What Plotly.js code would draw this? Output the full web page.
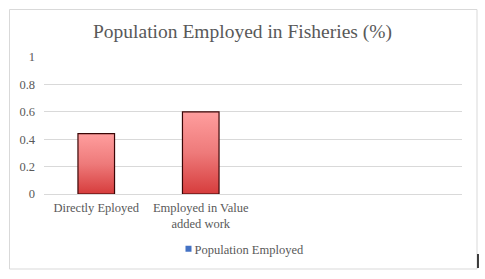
<!DOCTYPE html>
<html>
<head>
<meta charset="utf-8">
<script src="https://cdn.plot.ly/plotly-3.0.1.min.js"></script>
<style>
html,body{margin:0;padding:0;background:#fff;}
#chart{width:485px;height:279px;}
</style>
</head>
<body>
<div id="chart"></div>
<script>
const categories = ["Directly Eployed", "Employed in Value<br>added work"];
const values = [0.44, 0.6];
const seriesName = "Population Employed";
const yTicks = [0, 0.2, 0.4, 0.6, 0.8, 1];
const yTickLabels = ["0", "0.2", "0.4", "0.6", "0.8", "1"];

const FONT = "Liberation Serif, DejaVu Serif, serif";
const W = 485, H = 279;
const M = {l: 44, r: 23, t: 57, b: 85};
const pw = W - M.l - M.r, ph = H - M.t - M.b;
function px(x){ return (x - M.l) / pw; }
function py(y){ return (H - M.b - y) / ph; }

const traces = [
  {
    type: "bar",
    x: categories,
    y: values,
    name: seriesName,
    width: 0.35,
    showlegend: false,
    marker: {color: "#E86A6A", line: {color: "#3A0606", width: 1.2}},
    hoverinfo: "skip"
  },
  {
    type: "scatter",
    mode: "markers",
    x: [categories[0]],
    y: [null],
    name: seriesName,
    showlegend: true,
    marker: {symbol: "square", size: 6, color: "#4472C4"}
  }
];

const layout = {
  width: W, height: H,
  margin: M,
  paper_bgcolor: "#ffffff",
  plot_bgcolor: "#ffffff",
  font: {family: FONT, color: "#595959", size: 12},
  title: {
    text: "Population Employed in Fisheries (%)",
    font: {family: FONT, size: 19.5, color: "#595959"},
    x: 0.5, xanchor: "center", xref: "container",
    y: 1 - 31 / H, yanchor: "middle", yref: "container"
  },
  xaxis: {
    type: "category",
    range: [-0.5, 3.5],
    showgrid: false, zeroline: false, showline: false,
    ticks: "",
    ticklabelstandoff: 4,
    tickfont: {family: FONT, size: 12.5, color: "#595959"},
    fixedrange: true
  },
  yaxis: {
    range: [0, 1],
    tickvals: yTicks,
    ticktext: yTickLabels,
    showgrid: true, gridcolor: "#D9D9D9", gridwidth: 1,
    zeroline: true, zerolinecolor: "#D9D9D9", zerolinewidth: 1,
    showline: false, ticks: "",
    ticklabelstandoff: 8,
    tickfont: {family: FONT, size: 12.5, color: "#595959"},
    fixedrange: true
  },
  showlegend: true,
  legend: {
    orientation: "h",
    x: px(246), xanchor: "center",
    y: py(249), yanchor: "middle",
    font: {family: FONT, size: 12.5, color: "#595959"},
    bgcolor: "rgba(0,0,0,0)"
  },
  shapes: [
    {type: "rect", xref: "paper", yref: "paper",
     x0: px(9.5), x1: px(477), y0: py(269), y1: py(9.5),
     line: {color: "#D9D9D9", width: 1}, fillcolor: "rgba(0,0,0,0)", layer: "below"},
    {type: "line", xref: "paper", yref: "paper",
     x0: px(478), x1: px(478), y0: py(268), y1: py(254),
     line: {color: "#000000", width: 1.5}}
  ]
};

Plotly.newPlot("chart", traces, layout, {staticPlot: true}).then(function(gd){
  const svg = gd.querySelector("svg.main-svg");
  const NS = "http://www.w3.org/2000/svg";
  let defs = svg.querySelector("defs");
  if (!defs) { defs = document.createElementNS(NS, "defs"); svg.insertBefore(defs, svg.firstChild); }
  const lg = document.createElementNS(NS, "linearGradient");
  lg.setAttribute("id", "barGrad");
  lg.setAttribute("x1", "0"); lg.setAttribute("y1", "0");
  lg.setAttribute("x2", "0"); lg.setAttribute("y2", "1");
  [["0", "#FF9E9E"], ["0.5", "#EE7A7A"], ["1", "#D63C3C"]].forEach(function(s){
    const st = document.createElementNS(NS, "stop");
    st.setAttribute("offset", s[0]);
    st.setAttribute("stop-color", s[1]);
    lg.appendChild(st);
  });
  defs.appendChild(lg);
  gd.querySelectorAll(".barlayer .point path").forEach(function(p){
    p.style.fill = "url(#barGrad)";
  });
  // tighten legend symbol-to-text gap
  gd.querySelectorAll(".legend .legendtext").forEach(function(t){
    const x = parseFloat(t.getAttribute("x")) || 40;
    t.setAttribute("x", x - 14);
  });
});
</script>
</body>
</html>
